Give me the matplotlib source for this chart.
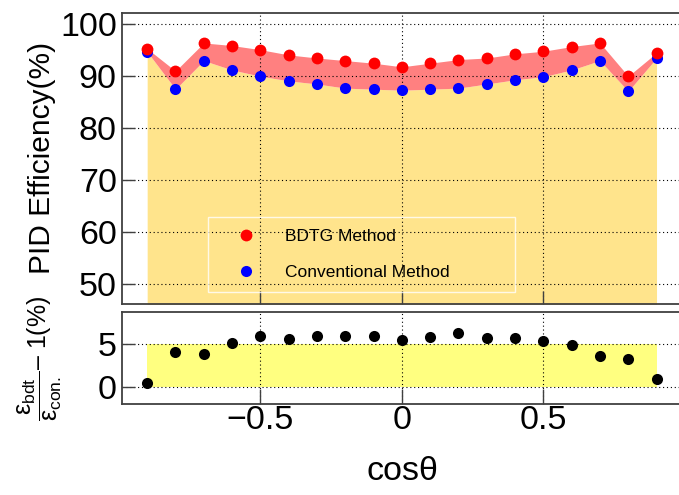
import numpy as np
import matplotlib
matplotlib.use('Agg')
import matplotlib.pyplot as plt
from matplotlib.ticker import FuncFormatter

plt.rcParams['font.family'] = ['Liberation Sans', 'DejaVu Sans']
plt.rcParams['mathtext.fontset'] = 'custom'
plt.rcParams['mathtext.rm'] = 'Liberation Sans'
plt.rcParams['mathtext.it'] = 'Liberation Sans:italic'

# cos(theta) bin centres
cos_theta = [-0.9, -0.8, -0.7, -0.6, -0.5, -0.4, -0.3, -0.2, -0.1, 0.0,
             0.1, 0.2, 0.3, 0.4, 0.5, 0.6, 0.7, 0.8, 0.9]

# PID efficiency (%)
eff_bdtg = [95.2, 90.9, 96.3, 95.8, 95.0, 94.0, 93.4, 92.9, 92.4, 91.7,
            92.4, 93.1, 93.4, 94.2, 94.7, 95.6, 96.3, 89.9, 94.4]
eff_conv = [94.6, 87.4, 92.9, 91.1, 89.9, 89.0, 88.4, 87.6, 87.4, 87.2,
            87.4, 87.6, 88.4, 89.2, 89.8, 91.1, 92.9, 87.0, 93.4]

# relative gain eps_bdt/eps_con - 1 (%)
rel_gain = [0.4, 4.1, 3.8, 5.1, 5.9, 5.6, 5.9, 6.0, 5.9, 5.5,
            5.8, 6.3, 5.7, 5.7, 5.4, 4.9, 3.6, 3.3, 0.9]

x = np.array(cos_theta)
bdtg = np.array(eff_bdtg)
conv = np.array(eff_conv)
gain = np.array(rel_gain)

W, H = 679, 495
fig = plt.figure(figsize=(W / 100, H / 100), dpi=100)

left = 121.7 / W
width = (682 - 121.7) / W
ax1 = fig.add_axes([left, 1 - 304.3 / H, width, (304.3 - 13.3) / H])
ax2 = fig.add_axes([left, 1 - 404 / H, width, (404 - 311.7) / H])

grid_kw = dict(color='black', linestyle=(0, (1, 2.5)), linewidth=0.8)
frame_col = '#404040'
fmt = FuncFormatter(lambda v, p: '0' if abs(v) < 1e-9 else f'{v:g}'.replace('-', '\u2212'))

# upper pad: efficiencies
ax1.fill_between(x, 0, conv, color='#ffe48c', lw=0, zorder=1)
ax1.fill_between(x, conv, bdtg, color='#ff8080', lw=0, zorder=1.2)
ax1.plot(x, conv, 'o', color='blue', ms=8, mec='none', zorder=3,
         label='Conventional Method')
ax1.plot(x, bdtg, 'o', color='red', ms=8.5, mec='none', zorder=3.1,
         label='BDTG Method')
ax1.set_xlim(-0.99, 0.99)
ax1.set_ylim(46, 102)
ax1.set_yticks([50, 60, 70, 80, 90, 100])
ax1.set_xticks([-0.5, 0, 0.5])
ax1.tick_params(axis='x', direction='in', length=9.5, width=1, labelbottom=False,
                color=frame_col)
ax1.tick_params(axis='y', direction='in', length=9, width=1, labelsize=24.5, pad=3.5,
                color=frame_col)
ax1.grid(True, **grid_kw)

handles, labels = ax1.get_legend_handles_labels()
leg = ax1.legend(handles[::-1], labels[::-1], loc='lower left',
                 bbox_to_anchor=(0.154, 0.042, 0.548, 0.275), mode='expand',
                 fontsize=12.5, frameon=True, fancybox=False, borderpad=0.68,
                 labelspacing=1.24, handlelength=3.0, handletextpad=0.75,
                 numpoints=1, borderaxespad=0)
leg.get_frame().set_facecolor('none')
leg.get_frame().set_edgecolor('white')
leg.get_frame().set_linewidth(1.0)

# lower pad: relative gain
ax2.fill_between([x[0], x[-1]], 0, 5, color='#ffff80', lw=0, zorder=1)
ax2.plot(x, gain, 'o', color='black', ms=8, mec='none', zorder=3)
ax2.set_xlim(-0.99, 0.99)
ax2.set_ylim(-2, 8.8)
ax2.set_yticks([0, 5])
ax2.set_xticks([-0.5, 0, 0.5])
ax2.xaxis.set_major_formatter(fmt)
ax2.tick_params(axis='x', direction='in', length=11, width=1, labelsize=24.5, pad=1,
                color=frame_col)
ax2.tick_params(axis='y', direction='in', length=9, width=1, labelsize=24.5, pad=3.5,
                color=frame_col)
ax2.grid(True, **grid_kw)

for ax in (ax1, ax2):
    for sp in ax.spines.values():
        sp.set_color(frame_col)
        sp.set_linewidth(1.3)

fig.text(42 / W, 1 - 158 / H, 'PID Efficiency(%)', rotation=90,
         ha='center', va='center', fontsize=21.5)
fig.text(40 / W, 1 - 358 / H,
         r'$\dfrac{\mathrm{\varepsilon}_{\mathrm{bdt}}}{\mathrm{\varepsilon}_{\mathrm{con.}}}$'
         + '\u2013 1(%)',
         rotation=90, ha='center', va='center', fontsize=18)
fig.text(402 / W, 1 - 480 / H, 'cos\u03b8', ha='center', va='baseline', fontsize=24.5)

fig.savefig('out.png', dpi=100)
